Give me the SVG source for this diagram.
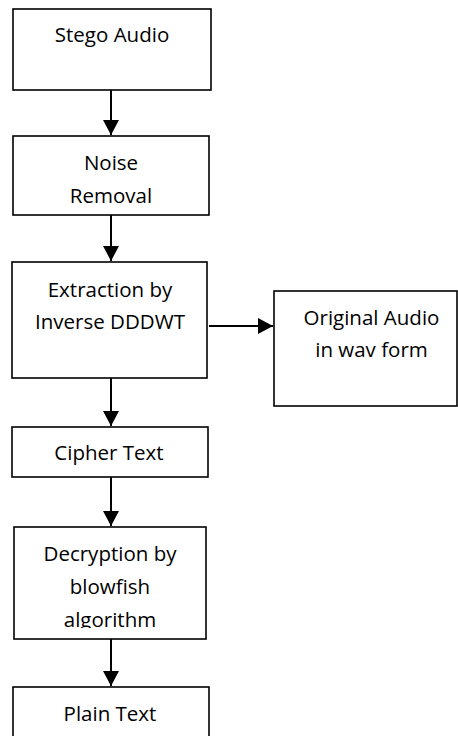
<svg xmlns="http://www.w3.org/2000/svg" width="458" height="736" viewBox="0 0 458 736">
  <style>
    .box { fill: #ffffff; stroke: #000000; stroke-width: 1.6; }
    .lbl { font-family: "Open Sans", "Liberation Sans", sans-serif; font-size: 20.5px; fill: #000000; text-anchor: middle; }
    .edge { stroke: #000000; stroke-width: 2; fill: none; marker-end: url(#head); }
  </style>
  <defs>
    <marker id="head" markerUnits="userSpaceOnUse" markerWidth="15" markerHeight="16" refX="15" refY="8" orient="auto">
      <path d="M0,0 L15,8 L0,16 Z" fill="#000000"/>
    </marker>
    <!-- the decryption label overflows its box; its last line is cut off -->
    <clipPath id="decryptClip">
      <rect x="14" y="527" width="192" height="101"/>
    </clipPath>
  </defs>
  <rect width="458" height="736" fill="#ffffff"/>

  <g id="stego-audio">
    <rect class="box" x="13" y="9" width="198" height="81"/>
    <text class="lbl" x="112" y="42">Stego Audio</text>
  </g>

  <g id="noise-removal">
    <rect class="box" x="13" y="136" width="196" height="79"/>
    <text class="lbl" x="111" y="170">Noise</text>
    <text class="lbl" x="111" y="203">Removal</text>
  </g>

  <g id="extraction">
    <rect class="box" x="12" y="262" width="195" height="116"/>
    <text class="lbl" x="110" y="297">Extraction by</text>
    <text class="lbl" x="110" y="329">Inverse DDDWT</text>
  </g>

  <g id="original-audio">
    <rect class="box" x="274" y="291" width="183" height="115"/>
    <text class="lbl" x="371.5" y="325">Original Audio</text>
    <text class="lbl" x="371.5" y="357">in wav form</text>
  </g>

  <g id="cipher-text">
    <rect class="box" x="12" y="427" width="196" height="50"/>
    <text class="lbl" x="109" y="460">Cipher Text</text>
  </g>

  <g id="decryption">
    <rect class="box" x="14" y="527" width="192" height="112"/>
    <g clip-path="url(#decryptClip)">
      <text class="lbl" x="110" y="561">Decryption by</text>
      <text class="lbl" x="110" y="594">blowfish</text>
      <text class="lbl" x="110" y="627">algorithm</text>
    </g>
  </g>

  <g id="plain-text">
    <rect class="box" x="13" y="687" width="196" height="60"/>
    <text class="lbl" x="110" y="721">Plain Text</text>
  </g>

  <g id="connectors">
    <line class="edge" x1="111" y1="90" x2="111" y2="135"/>
    <line class="edge" x1="111" y1="215" x2="111" y2="261"/>
    <line class="edge" x1="209" y1="326" x2="273" y2="326"/>
    <line class="edge" x1="111" y1="378" x2="111" y2="426"/>
    <line class="edge" x1="111" y1="477" x2="111" y2="526"/>
    <line class="edge" x1="111" y1="639" x2="111" y2="686"/>
  </g>
</svg>
